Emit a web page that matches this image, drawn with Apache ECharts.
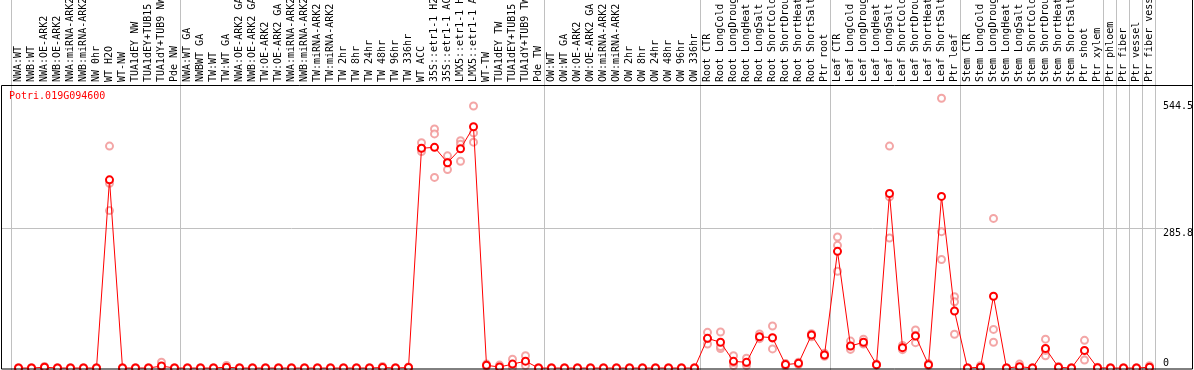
<!DOCTYPE html>
<html>
<head>
<meta charset="utf-8">
<script src="https://cdn.jsdelivr.net/npm/echarts/dist/echarts.min.js"></script>
<style>
html,body{margin:0;padding:0;background:#fff;}
#chart{width:1194px;height:370px;}
</style>
</head>
<body>
<div id="chart"></div>
<script>
const geneName = "Potri.019G094600";

const categories = [
  "NWA:WT","NWB:WT","NWA:OE-ARK2","NWB:OE-ARK2","NWA:miRNA-ARK2","NWB:miRNA-ARK2","NW 0hr","WT H2O","WT-NW","TUA1dEY NW",
  "TUA1dEY+TUB15","TUA1dY+TUB9 NW","Pde NW","NWA:WT GA","NWBWT GA","TW:WT","TW:WT GA","NWA:OE-ARK2 GA","NWB:OE-ARK2 GA","TW:OE-ARK2",
  "TW:OE-ARK2 GA","NWA:miRNA-ARK2","NWB:miRNA-ARK2","TW:miRNA-ARK2","TW:miRNA-ARK2","TW 2hr","TW 8hr","TW 24hr","TW 48hr","TW 96hr",
  "TW 336hr","WT ACC","35S::etr1-1 H2O","35S::etr1-1 ACC","LMX5::etr1-1 H2O","LMX5::etr1-1 ACC","WT-TW","TUA1dEY TW","TUA1dEY+TUB15","TUA1dY+TUB9 TW",
  "Pde TW","OW:WT","OW:WT GA","OW:OE-ARK2","OW:OE-ARK2 GA","OW:miRNA-ARK2","OW:miRNA-ARK2","OW 2hr","OW 8hr","OW 24hr",
  "OW 48hr","OW 96hr","OW 336hr","Root CTR","Root LongCold","Root LongDrought","Root LongHeat","Root LongSalt","Root ShortCold","Root ShortDrought",
  "Root ShortHeat","Root ShortSalt","Ptr root","Leaf CTR","Leaf LongCold","Leaf LongDrought","Leaf LongHeat","Leaf LongSalt","Leaf ShortCold","Leaf ShortDrought",
  "Leaf ShortHeat","Leaf ShortSalt","Ptr leaf","Stem CTR","Stem LongCold","Stem LongDrought","Stem LongHeat","Stem LongSalt","Stem ShortCold","Stem ShortDrought",
  "Stem ShortHeat","Stem ShortSalt","Ptr shoot","Ptr xylem","Ptr phloem","Ptr fiber","Ptr vessel","Ptr fiber vessel"
];

// mean expression per sample
const means = [
  0,0,1.5,0,0,0,0,385,0,0,
  0,4,0,0,0,0,1.7,0,0,0,
  0,0,0,0,0,0,0,0,1,0,
  1,449.5,451.5,420,448.5,493.5,5.5,2,8,14,
  0,0,0,0,0,0,0,0,0,0,
  0,0,0,60.7,52.6,13.6,11.6,64,62,7,
  9.5,67.5,26.6,238.7,45,52.6,6.8,357,41.6,65.5,
  6.8,351,116.6,0,1.6,146.7,0,2.7,0,40,
  1.4,0,36,0.5,0,0,0,1.5
];

// replicate values
const rep1 = [
  0,0,3,0,0,0,0,454,0,0,
  0,12,0,0,0,0,5,0,0,0,
  0,0,0,0,0,0,0,0,3,0,
  2,461,489,434,465,536,8,6,18,25,
  0,0,0,0,0,0,0,0,0,0,
  0,0,0,73,73.6,25,20,69.6,86,9,
  12,70,30,268,55,59,8,454,46,77.7,
  9,552,146,0,4.7,306,0,8,0,59,
  3,0,56.6,1.5,0,0,0,4.5
];
const rep2 = [
  0,0,1,0,0,0,0,378,0,0,
  0,0,0,0,0,0,0,0,0,0,
  0,0,0,0,0,0,0,0,0,0,
  1,449,479,421,458,481,5,0,5,12,
  0,0,0,0,0,0,0,0,0,0,
  0,0,0,49,40,5,5,62.8,39,4,
  7,64,24,251,42,50,6,350,41.5,51.8,
  6,279,135.6,0,0,79,0,0,0,25,
  1,0,16.4,0,0,0,0,0
];
const rep3 = [
  0,0,0.5,0,0,0,0,322,0,0,
  0,0,0,0,0,0,0,0,0,0,
  0,0,0,0,0,0,0,0,0,0,
  0,443,390,406,423,462,3,0,1,5,
  0,0,0,0,0,0,0,0,0,0,
  0,0,0,60,44,11,10,60,61,8,
  9.5,68,26,198,38,49,6,266,37.5,67,
  5,222,69,0,0,52.6,0,0,0,36,
  0,0,35,0,0,0,0,0
];

const yTickValues = [0, 285.8, 544.5];
const gridLineValue = 285.8;
// group separators: line placed before this category index
const separators = [0, 13, 41, 53, 63, 73, 84, 85, 86, 87, 88];

const FONT = '"DejaVu Sans Mono", "Liberation Mono", monospace';

const repPoints = [];
[rep1, rep2, rep3].forEach(r => r.forEach((v, i) => repPoints.push([i, v])));

const chart = echarts.init(document.getElementById('chart'), null, {renderer: 'canvas'});

const option = {
  animation: false,
  backgroundColor: '#fff',
  title: {
    text: geneName,
    left: 9,
    top: 91,
    padding: 0,
    textStyle: {color: '#ff0000', fontFamily: FONT, fontSize: 10, fontWeight: 'normal'}
  },
  grid: {left: 12, right: 38, top: 85, bottom: 2, containLabel: false, outerBoundsMode: 'none'},
  xAxis: {
    type: 'category',
    data: categories,
    position: 'top',
    boundaryGap: true,
    axisLine: {show: false},
    axisTick: {show: false},
    splitLine: {show: false},
    axisLabel: {
      interval: 0, rotate: 90, margin: 3, hideOverlap: false,
      fontFamily: FONT, fontSize: 10, color: '#000'
    }
  },
  yAxis: {
    type: 'value',
    position: 'right',
    min: 0,
    max: 579,
    axisLine: {show: false},
    axisTick: {show: false},
    splitLine: {show: false},
    axisLabel: {
      customValues: yTickValues,
      formatter: v => String(v),
      margin: 7,
      align: 'left',
      verticalAlign: 'top',
      verticalAlignMinLabel: 'bottom',
      fontFamily: FONT, fontSize: 10, color: '#000'
    }
  },
  graphic: [
    {type: 'rect', shape: {x: 1.5, y: 85.5, width: 1191, height: 283.5},
     style: {fill: null, stroke: '#000', lineWidth: 1}, z: 100, silent: true},
    {type: 'line', shape: {x1: 1192.5, y1: 0, x2: 1192.5, y2: 86},
     style: {stroke: '#000', lineWidth: 1}, z: 100, silent: true}
  ],
  series: [
    {
      type: 'custom',
      coordinateSystem: 'cartesian2d',
      clip: false,
      silent: true,
      z: 1,
      data: separators.map(b => [b, 0]),
      renderItem: function (params, api) {
        const b = api.value(0);
        const idx = Math.min(b, categories.length - 1);
        const band = api.size([1, 0])[0];
        const x = Math.round(api.coord([idx, 0])[0] + (b - idx - 0.5) * band) - 0.5;
        const yb = api.coord([0, 0])[1];
        return {type: 'line', shape: {x1: x, y1: 0, x2: x, y2: yb + 2},
                style: {stroke: '#c0c0c0', lineWidth: 1}};
      }
    },
    {
      type: 'custom',
      coordinateSystem: 'cartesian2d',
      clip: false,
      silent: true,
      z: 1,
      data: [[0, gridLineValue]],
      renderItem: function (params, api) {
        const y = Math.round(api.coord([0, api.value(1)])[1]) + 0.5;
        const band = api.size([1, 0])[0];
        const xr = api.coord([categories.length - 1, 0])[0] + band / 2 + 7;
        return {type: 'line', shape: {x1: 1, y1: y, x2: xr, y2: y},
                style: {stroke: '#c0c0c0', lineWidth: 1}};
      }
    },
    {
      name: 'replicates',
      type: 'scatter',
      data: repPoints,
      symbol: 'emptyCircle',
      symbolSize: 7,
      clip: false,
      z: 3,
      itemStyle: {color: '#f09090', borderColor: '#f09090', borderWidth: 1}
    },
    {
      name: 'mean',
      type: 'line',
      data: means,
      symbol: 'emptyCircle',
      symbolSize: 7,
      showAllSymbol: true,
      clip: false,
      z: 4,
      lineStyle: {color: '#ff0000', width: 1},
      itemStyle: {color: '#ff0000', borderColor: '#ff0000', borderWidth: 1.5}
    }
  ]
};
chart.setOption(option);
</script>
</body>
</html>
